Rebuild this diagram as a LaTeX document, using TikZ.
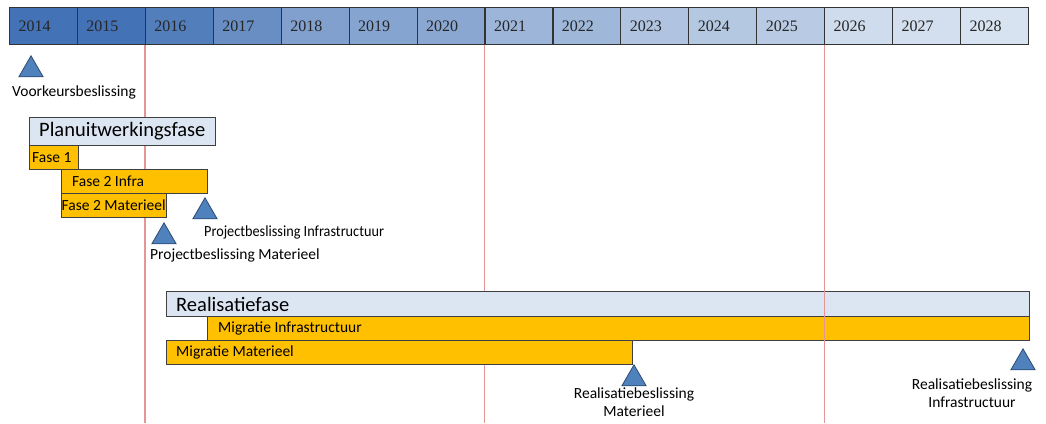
\documentclass[tikz,border=0pt]{standalone}
\usepackage{fontspec}
\setmainfont{Carlito}
\newfontfamily\yearfont{Liberation Serif}
\usetikzlibrary{positioning,shapes.geometric}
\definecolor{hdark}{RGB}{68,114,182}
\definecolor{hlight}{RGB}{220,230,242}
\definecolor{barorange}{RGB}{255,192,0}
\definecolor{msfill}{RGB}{79,129,189}
\definecolor{msline}{RGB}{45,75,115}
\definecolor{yearline}{RGB}{228,150,150}
\tikzset{
  yearcell/.style={draw=black!80, line width=1.1pt, anchor=north west, minimum height=37, text width=49.9, inner xsep=9, inner ysep=0, align=left, font=\yearfont\fontsize{16}{18}\selectfont, text=black!85},
  phasebox/.style={draw=black!75, line width=1pt, fill=hlight, anchor=north west, minimum height=#1, inner sep=0},
  taskbar/.style={draw=black!75, line width=1pt, fill=barorange, anchor=north west, minimum height=24, inner sep=0},
  bartext/.style={anchor=west, inner sep=0, font=\fontsize{15.5}{17}\selectfont},
  phasetext/.style={anchor=west, inner sep=0, font=\fontsize{20.5}{22}\selectfont},
  milestone/.style={regular polygon, regular polygon sides=3, minimum size=28, inner sep=0, fill=msfill, draw=msline, line width=0.8pt, anchor=corner 1},
  mslabel/.style={inner sep=0, align=center, font=\fontsize{15.5}{18}\selectfont},
  redline/.style={draw=yearline, line width=1.3pt},
}
\begin{document}
\begin{tikzpicture}[x=1pt,y=-1pt]
\useasboundingbox (0,0) rectangle (1046,423);
% jaren
\foreach \yr/\shade [count=\i from 0] in {2014/100,2015/100,2016/90,2017/76,2018/60,2019/57,2020/54,2021/42,2022/40,2023/29,2024/26,2025/23,2026/9,2027/6,2028/3}
  \node[yearcell, fill=hdark!\shade!hlight] (y\yr) at (9+\i*67.93,7) {\yr};
\coordinate (bottom) at (0,423);
% jaarlijnen
\draw[redline] (y2016.south west) -- (y2016.south west |- bottom);
\draw[redline] (y2021.south west) -- (y2021.south west |- bottom);
% planuitwerking
\node[phasebox=28, minimum width=186] (puf) at (29,117) {};
\node[phasetext] (puft) at ([xshift=10]puf.west) {Planuitwerkingsfase};
\node[taskbar, minimum width=49] (fase1) at (29,145) {};
\node[bartext] (fase1t) at ([xshift=3]fase1.west) {Fase 1};
\node[taskbar, minimum width=146] (fase2i) at (61,169) {};
\node[bartext] (fase2it) at ([xshift=11]fase2i.west) {Fase 2 Infra};
\node[taskbar, minimum width=105] (fase2m) at (61,193) {};
\node[bartext] (fase2mt) at ([xshift=0.5]fase2m.west) {Fase 2 Materieel};
% realisatie
\node[phasebox=25, minimum width=863] (rf) at (166,291) {};
\node[phasetext] (rft) at ([xshift=10]rf.west) {Realisatiefase};
\node[taskbar, minimum width=822] (mi) at (207,316) {};
\node[bartext] (mit) at ([xshift=11]mi.west) {Migratie Infrastructuur};
\node[taskbar, minimum width=466] (mm) at (166,340) {};
\node[bartext] (mmt) at ([xshift=10]mm.west) {Migratie Materieel};
\draw[redline] (y2026.south west) -- (y2026.south west |- bottom);
% beslissingen
\node[milestone] (vkb) at (31,55) {};
\node[mslabel, anchor=west] (vkbt) at (12,92) {Voorkeursbeslissing};
\node[milestone] (pbi) at (205,197) {};
\node[mslabel, anchor=west] (pbit) at (204,232) {\scalebox{0.92}[1]{Projectbeslissing Infrastructuur}};
\node[milestone] (pbm) at (164,222) {};
\node[mslabel, anchor=west] (pbmt) at (150,255) {Projectbeslissing Materieel};
\node[milestone] (rbm) at (634,364) {};
\node[mslabel] (rbmt) at (634,402) {Realisatiebeslissing\\Materieel};
\node[milestone] (rbi) at (1023,348) {};
\node[mslabel] (rbit) at (972,393) {Realisatiebeslissing\\Infrastructuur};
\end{tikzpicture}
\end{document}
